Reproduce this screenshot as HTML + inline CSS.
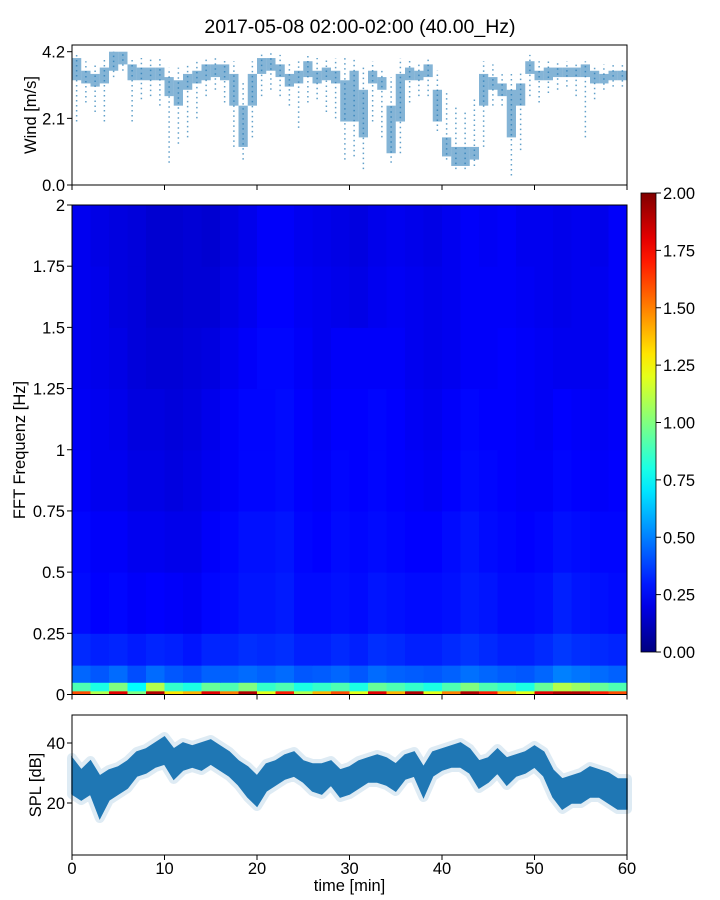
<!DOCTYPE html>
<html><head><meta charset="utf-8">
<style>
body{margin:0;background:#fff;}
svg{display:block;font-family:"Liberation Sans","DejaVu Sans",sans-serif;}
</style></head>
<body>
<svg id="fig" width="720" height="900" viewBox="0 0 720 900" xmlns="http://www.w3.org/2000/svg">
<rect x="0" y="0" width="720" height="900" fill="#fff"/>
<text x="360" y="33" text-anchor="middle" font-size="19.5" fill="#000">2017-05-08 02:00-02:00 (40.00_Hz)</text>
<g id="wind"></g>
<g id="spec"></g>
<g id="cbar"></g>
<g id="spl"></g>
</svg>
<script>
// ---- data ----
const windLo = [3.3,3.2,3.1,3.2,3.6,3.8,3.3,3.3,3.3,3.3,2.8,2.5,3.0,3.2,3.3,3.4,3.3,2.5,1.2,2.5,3.5,3.6,3.4,3.1,3.2,3.4,3.2,3.3,3.2,2.0,2.0,1.5,3.2,3.0,1.0,2.0,3.3,3.3,3.4,2.0,0.9,0.6,0.6,0.8,2.5,3.0,2.8,1.5,2.5,3.5,3.3,3.3,3.4,3.4,3.4,3.4,3.2,3.2,3.3,3.3];
const windHi = [4.0,3.6,3.5,3.7,4.2,4.2,3.8,3.7,3.7,3.7,3.4,3.3,3.5,3.6,3.8,3.8,3.8,3.5,2.5,3.5,4.0,4.0,3.8,3.5,3.6,3.9,3.6,3.7,3.6,3.3,3.6,3.0,3.6,3.4,2.5,3.5,3.7,3.6,3.8,3.0,1.5,1.2,1.2,1.2,3.5,3.4,3.2,3.0,3.2,3.9,3.6,3.7,3.7,3.7,3.7,3.8,3.6,3.5,3.6,3.6];
const windMin = [2.0,2.6,2.3,2.0,3.4,3.6,2.0,2.7,2.8,2.5,0.7,1.3,1.5,2.1,2.8,3.0,2.6,1.2,0.8,1.5,2.8,3.0,2.8,2.5,1.8,2.6,2.7,2.3,2.1,0.8,0.9,0.5,2.0,1.5,0.7,1.0,2.6,2.8,2.8,1.7,0.8,0.5,0.5,0.6,1.2,2.5,2.5,0.3,1.1,2.8,2.6,2.9,3.0,3.1,2.8,1.5,2.7,3.0,3.1,3.1];
const windMax = [4.2,3.9,3.8,4.0,4.2,4.2,4.0,4.0,4.0,4.0,3.7,3.7,3.8,3.9,4.0,4.0,4.0,3.9,3.3,3.9,4.2,4.2,4.1,3.9,4.0,4.1,4.0,4.0,4.0,4.1,4.0,3.7,3.9,3.7,3.4,4.0,4.0,3.9,4.0,3.6,3.0,2.5,2.3,2.8,3.9,3.8,3.6,3.5,3.6,4.1,3.9,3.9,3.9,3.9,3.9,3.9,3.8,3.8,3.8,3.8];
const windTicks = [0.0, 2.1, 4.2];

const splLo = [23,21,23,15,21,23,25,29,30,32,33,28,31,32,31,33,31,29,26,22,19,24,26,28,29,27,24,23,26,22,23,25,27,27,26,24,28,29,22,29,31,32,32,30,25,27,30,26,29,30,32,29,22,18,20,20,22,22,20,18,18];
const splHi = [35,31,34,29,31,32,34,37,38,40,42,38,40,39,40,41,39,37,34,32,29,33,34,36,37,34,33,33,34,31,32,34,35,36,35,33,36,37,32,37,38,39,40,38,34,35,38,35,36,37,39,37,31,28,29,30,32,31,30,28,28];
const splTicks = [20, 40];
const timeTicks = [0,10,20,30,40,50,60];

const freqEdges = [0,0.015,0.05,0.12,0.25,0.5,0.75,1.0,1.25,1.5,1.75,2.0];
const specRows = [
 [1.6,1.1,1.8,1.0,1.9,1.3,1.4,1.8,1.5,1.9,1.2,1.7,1.1,1.4,1.6,1.2,1.8,1.4,1.9,1.2,1.5,1.9,1.7,1.4,1.2,1.8,1.9,1.9,1.7,1.6],
 [0.90,0.80,1.00,0.75,1.10,0.85,0.80,0.95,0.90,1.00,0.85,0.90,0.80,0.85,0.90,0.80,0.95,0.90,0.85,0.80,0.90,1.00,0.90,0.85,0.80,0.95,1.10,1.05,0.95,0.90],
 [0.45,0.42,0.46,0.40,0.46,0.42,0.40,0.44,0.44,0.46,0.44,0.46,0.42,0.43,0.45,0.42,0.46,0.44,0.43,0.42,0.44,0.47,0.45,0.43,0.42,0.45,0.50,0.48,0.46,0.44],
 [0.33,0.31,0.32,0.30,0.32,0.31,0.29,0.32,0.32,0.34,0.33,0.34,0.31,0.31,0.33,0.31,0.34,0.33,0.31,0.31,0.33,0.35,0.33,0.31,0.31,0.33,0.36,0.34,0.33,0.32],
 [0.27,0.25,0.26,0.24,0.25,0.24,0.23,0.26,0.27,0.29,0.29,0.30,0.27,0.27,0.28,0.27,0.29,0.28,0.27,0.27,0.28,0.30,0.29,0.27,0.27,0.28,0.31,0.29,0.28,0.27],
 [0.26,0.24,0.24,0.22,0.22,0.21,0.21,0.24,0.26,0.28,0.28,0.29,0.26,0.25,0.27,0.26,0.27,0.26,0.25,0.25,0.27,0.29,0.27,0.26,0.25,0.26,0.28,0.27,0.26,0.26],
 [0.24,0.22,0.22,0.20,0.20,0.19,0.20,0.22,0.24,0.26,0.26,0.27,0.25,0.24,0.26,0.25,0.26,0.25,0.24,0.23,0.25,0.27,0.26,0.25,0.24,0.24,0.26,0.25,0.24,0.25],
 [0.23,0.22,0.21,0.19,0.19,0.18,0.19,0.21,0.24,0.26,0.26,0.27,0.25,0.23,0.25,0.25,0.26,0.25,0.23,0.22,0.24,0.26,0.25,0.25,0.24,0.23,0.25,0.24,0.23,0.24],
 [0.22,0.21,0.20,0.18,0.17,0.17,0.18,0.19,0.22,0.24,0.26,0.26,0.24,0.22,0.24,0.24,0.24,0.24,0.22,0.21,0.22,0.24,0.24,0.25,0.24,0.23,0.22,0.22,0.22,0.24],
 [0.22,0.21,0.19,0.18,0.16,0.16,0.17,0.17,0.20,0.22,0.25,0.25,0.23,0.22,0.21,0.20,0.22,0.23,0.22,0.21,0.22,0.24,0.24,0.24,0.23,0.22,0.21,0.22,0.22,0.24],
 [0.22,0.20,0.19,0.18,0.16,0.16,0.17,0.16,0.19,0.21,0.24,0.24,0.22,0.21,0.20,0.19,0.21,0.22,0.21,0.20,0.22,0.24,0.23,0.24,0.22,0.22,0.21,0.22,0.21,0.24]
];
const freqTicks = [0,0.25,0.5,0.75,1,1.25,1.5,1.75,2];
const freqTickLabels = ["0","0.25","0.5","0.75","1","1.25","1.5","1.75","2"];
const cbarTicks = [0,0.25,0.5,0.75,1,1.25,1.5,1.75,2];
const cbarTickLabels = ["0.00","0.25","0.50","0.75","1.00","1.25","1.50","1.75","2.00"];

// ---- helpers ----
const NS = "http://www.w3.org/2000/svg";
const FS = 16.5;
function mk(parent, tag, attrs, text){
  const e = document.createElementNS(NS, tag);
  for (const k in attrs) e.setAttribute(k, attrs[k]);
  if (text !== undefined) e.textContent = text;
  parent.appendChild(e);
  return e;
}
function jet(val){
  const v = Math.max(0, Math.min(1, val/2));
  const c = x => Math.round(255*Math.max(0, Math.min(1, x)));
  return `rgb(${c(1.5-Math.abs(4*v-3))},${c(1.5-Math.abs(4*v-2))},${c(1.5-Math.abs(4*v-1))})`;
}
const X0 = 72, X1 = 627;
const xT = t => X0 + (t/60)*(X1-X0);

// ---- wind panel ----
(function(){
  const g = document.getElementById('wind');
  const top = 45, bot = 185;
  const yW = v => bot - v*(bot-51.7)/4.2;
  const bw = (X1-X0)/60;
  windLo.forEach((lo,i)=>{
    const x = xT(i+0.5);
    const w = mk(g,'line',{x1:x,x2:x,y1:yW(windMin[i]),y2:yW(windMax[i]),stroke:'#1f77b4','stroke-width':1.5,'stroke-opacity':0.7,'stroke-dasharray':'1.5 3.5'});
    
    
    const r = mk(g,'rect',{x:xT(i),y:yW(windHi[i]),width:bw,height:Math.max(1,yW(lo)-yW(windHi[i])),fill:'#1f77b4','fill-opacity':0.55});
    
    
  });
  mk(g,'rect',{x:X0,y:top,width:X1-X0,height:bot-top,fill:'none',stroke:'#000','stroke-width':1,});
  windTicks.forEach(v=>{
    const y = yW(v);
    mk(g,'line',{x1:X0-5,x2:X0,y1:y,y2:y,stroke:'#000'});
    const t = mk(g,'text',{x:X0-7,y:y+6,'text-anchor':'end','font-size':FS},v.toFixed(1));
    
    
  });
  timeTicks.forEach(v=>{ mk(g,'line',{x1:xT(v),x2:xT(v),y1:bot,y2:bot+5,stroke:'#000'}); });
  mk(g,'text',{x:36,y:115,'text-anchor':'middle','font-size':FS,transform:'rotate(-90 36 115)',},'Wind [m/s]');
})();

// ---- spectrogram ----
(function(){
  const g = document.getElementById('spec');
  const top = 205, bot = 694.5;
  const yF = f => bot - (f/2)*(bot-top);
  const ncol = specRows[0].length;
  specRows.forEach((row,ri)=>{
    const y0 = yF(freqEdges[ri+1]), y1 = yF(freqEdges[ri]);
    row.forEach((v,ci)=>{
      const c = mk(g,'rect',{x:xT(ci*60/ncol),y:y0,width:(X1-X0)/ncol+0.5,height:y1-y0+0.5,fill:jet(v)});
      
      
    });
  });
  mk(g,'rect',{x:X0,y:top,width:X1-X0,height:bot-top,fill:'none',stroke:'#000','stroke-width':1,});
  freqTicks.forEach((f,i)=>{
    const y = yF(f);
    mk(g,'line',{x1:X0-5,x2:X0,y1:y,y2:y,stroke:'#000'});
    const t = mk(g,'text',{x:X0-7,y:y+6,'text-anchor':'end','font-size':FS},freqTickLabels[i]);
    
    
  });
  timeTicks.forEach(v=>{ mk(g,'line',{x1:xT(v),x2:xT(v),y1:bot,y2:bot+5,stroke:'#000'}); });
  mk(g,'text',{x:25,y:450,'text-anchor':'middle','font-size':FS,transform:'rotate(-90 25 450)',},'FFT Frequenz [Hz]');
})();

// ---- colorbar ----
(function(){
  const g = document.getElementById('cbar');
  const top = 193, bot = 652, x = 641, w = 15;
  const defs = mk(g,'defs',{});
  const lg = mk(defs,'linearGradient',{id:'jetg',x1:0,y1:1,x2:0,y2:0});
  for (let i=0;i<=20;i++){ mk(lg,'stop',{offset:(i/20),'stop-color':jet(i/10)}); }
  mk(g,'rect',{x:x,y:top,width:w,height:bot-top,fill:'url(#jetg)',stroke:'#000','stroke-width':0.8,});
  const yC = v => bot - (v/2)*(bot-top);
  cbarTicks.forEach((v,i)=>{
    const y = yC(v);
    mk(g,'line',{x1:x+w,x2:x+w+5,y1:y,y2:y,stroke:'#000'});
    const t = mk(g,'text',{x:x+w+7,y:y+6,'font-size':FS},cbarTickLabels[i]);
    
    
  });
})();

// ---- SPL panel ----
(function(){
  const g = document.getElementById('spl');
  const top = 715, bot = 855;
  const yS = v => 743 + (40 - v)*3;
  let pts = [];
  splHi.forEach((v,i)=>pts.push(xT(i)+','+yS(v)));
  for (let i=splLo.length-1;i>=0;i--) pts.push(xT(i)+','+yS(splLo[i]));
  const halo = mk(g,'polygon',{points:pts.join(' '),fill:'#1f77b4','fill-opacity':0.2,stroke:'#1f77b4','stroke-opacity':0.15,'stroke-width':10,'stroke-linejoin':'round'});
  
  
  const band = mk(g,'polygon',{points:pts.join(' '),fill:'#1f77b4',stroke:'#1f77b4','stroke-width':1.5});
  
  
  mk(g,'rect',{x:X0-6,y:bot+0.5,width:X1-X0+14,height:10,fill:'#fff'});
  mk(g,'rect',{x:X0-6,y:top-12,width:X1-X0+14,height:11.5,fill:'#fff'});
  mk(g,'rect',{x:X0,y:top,width:X1-X0,height:bot-top,fill:'none',stroke:'#000','stroke-width':1,});
  splTicks.forEach(v=>{
    const y = yS(v);
    mk(g,'line',{x1:X0-5,x2:X0,y1:y,y2:y,stroke:'#000'});
    const t = mk(g,'text',{x:X0-7,y:y+6,'text-anchor':'end','font-size':FS},String(v));
    
    
  });
  timeTicks.forEach(v=>{
    mk(g,'line',{x1:xT(v),x2:xT(v),y1:bot,y2:bot+5,stroke:'#000'});
    const t = mk(g,'text',{x:xT(v),y:bot+19,'text-anchor':'middle','font-size':FS},String(v));
    
    
  });
  mk(g,'text',{x:349.5,y:891,'text-anchor':'middle','font-size':FS,},'time [min]');
  mk(g,'text',{x:41,y:785,'text-anchor':'middle','font-size':FS,transform:'rotate(-90 41 785)',},'SPL [dB]');
})();
</script>
</body></html>
